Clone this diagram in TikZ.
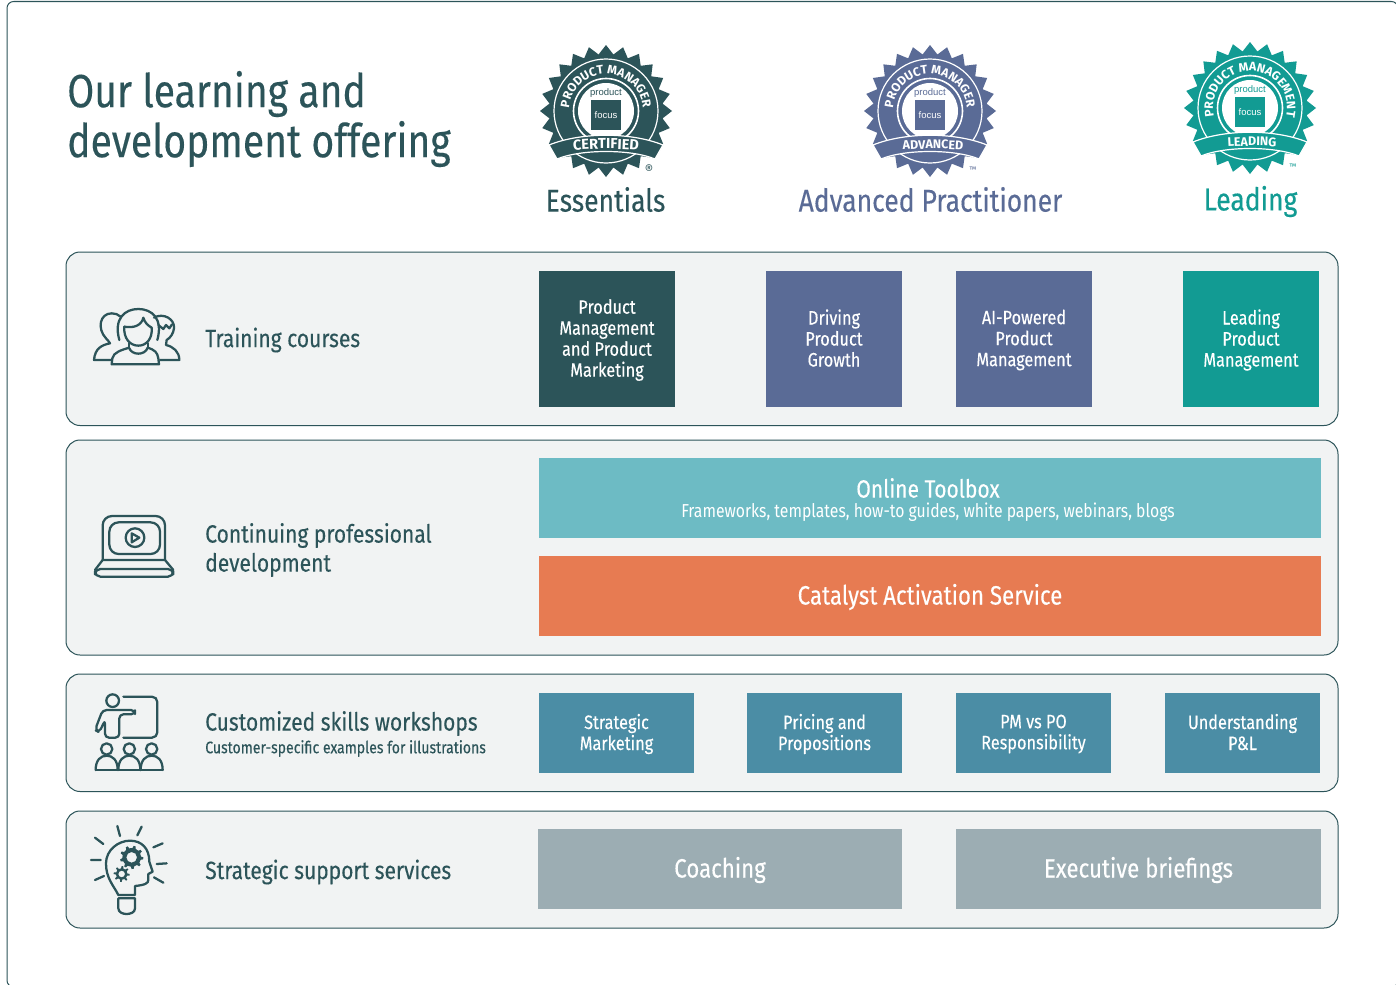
\documentclass[tikz,border=0pt]{standalone}
\usepackage{fontspec}
\usetikzlibrary{decorations.text}
\setmainfont[FakeStretch=0.84,FakeBold=0.25]{Fira Sans}
\newfontfamily\lightf[FakeStretch=0.84]{Fira Sans}
\newfontfamily\badgef{Fira Sans}
\newfontfamily\badgesans{Liberation Sans}
\definecolor{deep}{HTML}{2C5459}
\definecolor{slateb}{HTML}{5A6B96}
\definecolor{teal1}{HTML}{129B93}
\definecolor{aqua}{HTML}{6DBBC4}
\definecolor{coral}{HTML}{E77B52}
\definecolor{steel}{HTML}{4B8DA5}
\definecolor{graybox}{HTML}{9CADB3}
\definecolor{panelbg}{HTML}{F1F3F3}
\newcommand{\px}[1]{\fontsize{\fpeval{#1*0.75}pt}{\fpeval{#1*0.9}pt}\selectfont}
\newcommand{\pxl}[2]{\fontsize{\fpeval{#1*0.75}pt}{\fpeval{#2*0.75}pt}\selectfont}
\tikzset{
 x=0.75pt,y=-0.75pt,
 panel/.style={draw=deep,fill=panelbg,line width=0.75pt,rounded corners=10.5pt},
 boxbg/.style={inner sep=0pt,anchor=center},
 boxn/.style={anchor=center,inner sep=0pt,text=white,align=center,font=\pxl{19.4}{21}},
 wide/.style={anchor=center,inner sep=0pt,text=white,font=\px{26.5}},
 rowlabel/.style={anchor=west,inner sep=0pt,text=deep,align=left,font=\pxl{25}{29}},
 heading/.style={anchor=center,inner sep=0pt,font=\px{31.5}},
 icon/.style={draw=deep,line width=1.7pt,line cap=round,line join=round,fill=none},
}
\newcommand{\boxtxt}[8]{% name,color,w,h,x,y,style,text
 \node[boxbg,fill=#2,minimum width=#3*0.75pt,minimum height=#4*0.75pt] (#1) at (#5,#6) {};
 \node[#7] (#1t) at (#5,#6+1) {\vphantom{Ag}#8\vphantom{g}};}
\newcommand{\bsh}{0}
\newcommand{\badge}[9]{% name,x,y,color,top,bottom,topsize,botsize,mark
 \begin{scope}[shift={(#2,#3)},y=0.75pt]
  \fill[#4] (0:66) foreach \i in {1,...,24} { -- (\i*360/24-180/24:57) -- (\i*360/24:66)} -- cycle;
  \draw[white,line width=0.9pt] (0,0) circle (52);
  \draw[white,line width=1.2pt] (0,0) circle (32.5);
  \fill[white] (0,0) circle (28);
  \path[postaction={decorate,decoration={text along path,text align=center,
     text={|\badgef\bfseries\px{#7}\color{white}|#5}}}] (210:37) arc (210:-30:37);
  \draw[fill=#4,draw=white,line width=0.9pt] (-57,-34) .. controls (-25,-21) and (25,-21) .. (57,-34) -- (49,-48) .. controls (25,-38) and (-25,-38) .. (-49,-48) -- cycle;
  \path[postaction={decorate,decoration={text along path,text align=center,
     text={|\badgef\bfseries\px{#8}\color{white}|#6}}}] (-46+\bsh,-40.5) .. controls (-15+\bsh,-37) and (15+\bsh,-37) .. (46+\bsh,-40.5);
  \node[inner sep=0pt,fill=#4,minimum size=22.5pt] (#1sq) at (0,-4) {};
  \node[inner sep=0pt,text=white,font=\badgesans\px{9.5}] (#1fo) at (0,-4) {focus};
  \node[inner sep=0pt,text=#4,font=\badgesans\px{9.5}] (#1pr) at (0,18) {product};
  \node[inner sep=0pt,text=#4,font=\badgef] (#1mk) at (43,-59) {#9};
 \end{scope}}
\newcommand{\gearshape}[5]{% x,y,outer,inner,N
 \fill[deep,even odd rule] ({#1+#3},{#2})
  foreach \i in {1,...,#5} {
   -- ({#1+#3*cos((\i-0.75)*360/#5)},{#2+#3*sin((\i-0.75)*360/#5)})
   -- ({#1+(#3-7)*cos((\i-0.62)*360/#5)},{#2+(#3-7)*sin((\i-0.62)*360/#5)})
   -- ({#1+(#3-7)*cos((\i-0.13)*360/#5)},{#2+(#3-7)*sin((\i-0.13)*360/#5)})
   -- ({#1+#3*cos(\i*360/#5)},{#2+#3*sin(\i*360/#5)})
  } -- cycle ({#1},{#2}) circle (#4);}
\begin{document}
\begin{tikzpicture}
\useasboundingbox (0,0) rectangle (1396,985);
\fill[white] (0,0) rectangle (1396,985);
\draw[deep,line width=0.75pt,rounded corners=5pt] (7,1.5) rectangle (1398,987);
\node[anchor=west,inner sep=0pt,text=deep,align=left,font=\pxl{46.5}{50}] (title) at (67,119) {Our learning and\\development offering};
\badge{es}{606}{111}{deep}{PRODUCT MANAGER}{CERTIFIED}{12.3}{14.5}{\px{13}®}
\renewcommand{\bsh}{3}
\badge{ad}{930}{111}{slateb}{PRODUCT MANAGER}{ADVANCED}{12.3}{12.5}{\px{8}™}
\renewcommand{\bsh}{2}
\badge{le}{1250}{108}{teal1}{PRODUCT MANAGEMENT}{LEADING}{12.3}{12.5}{\px{8}™}
\node[heading,text=deep] (h1) at (605.5,199.5) {Essentials};
\node[heading,text=slateb] (h2) at (930.5,199.5) {Advanced Practitioner};
\node[heading,text=teal1] (h3) at (1250.5,201.5) {Leading};
\draw[panel] (66,252) rectangle (1338,425.5);
\draw[panel] (66,440) rectangle (1338,655);
\draw[panel] (66,674) rectangle (1338,791.5);
\draw[panel] (66,811) rectangle (1338,928);
\node[rowlabel] (l1) at (205,340) {Training courses};
\node[rowlabel] (l2) at (205,550) {Continuing professional\\development};
\node[rowlabel] (l3) at (205,723.5) {Customized skills workshops};
\node[anchor=west,inner sep=0pt,text=deep,font=\px{16.75}] (l3b) at (205,748.5) {Customer-specific examples for illustrations};
\node[rowlabel] (l4) at (205,872) {Strategic support services};
% training
\boxtxt{b1}{deep}{136}{136}{607}{339}{boxn}{Product\\Management\\and Product\\Marketing}
\boxtxt{b2}{slateb}{136}{136}{834}{339}{boxn}{Driving\\Product\\Growth}
\boxtxt{b3}{slateb}{136}{136}{1024}{339}{boxn}{AI-Powered\\Product\\Management}
\boxtxt{b4}{teal1}{136}{136}{1251}{339}{boxn}{Leading\\Product\\Management}
% CPD
\node[boxbg,fill=aqua,minimum width=586.5pt,minimum height=60pt] (t) at (930,498) {};
\node[inner sep=0pt,text=white,font=\px{25}] (t1) at (928,488) {Online Toolbox};
\node[inner sep=0pt,text=white,font=\lightf\px{18.75}] (t2) at (928,512) {Frameworks, templates, how-to guides, white papers, webinars, blogs};
\boxtxt{c}{coral}{782}{80}{930}{596}{wide}{Catalyst Activation Service}
% workshops
\boxtxt{w1}{steel}{155}{80}{616.5}{733}{boxn}{Strategic\\Marketing}
\boxtxt{w2}{steel}{155}{80}{824.5}{733}{boxn}{Pricing and\\Propositions}
\boxtxt{w3}{steel}{155}{80}{1033.5}{733}{boxn}{PM vs PO\\Responsibility}
\boxtxt{w4}{steel}{155}{80}{1242.5}{733}{boxn}{Understanding\\P\&L}
% support
\boxtxt{s1}{graybox}{364}{80}{720}{869}{wide}{Coaching}
\boxtxt{s2}{graybox}{365}{80}{1138.5}{869}{wide}{Executive briefings}
% icon 1
\begin{scope}[shift={(80,295)},scale=1/3]
 \draw[icon] (118,135) .. controls (100,70) and (135,42) .. (175,42) .. controls (215,42) and (250,70) .. (232,135);
 \draw[icon] (133,95) .. controls (160,100) and (185,92) .. (190,68) .. controls (195,85) and (205,92) .. (215,98);
 \draw[icon] (133,95) .. controls (130,130) and (150,152) .. (175,152) .. controls (200,152) and (218,130) .. (215,98);
 \draw[icon] (95,208) -- (97,190) .. controls (100,172) and (125,165) .. (147,158) .. controls (155,182) and (195,182) .. (203,158) .. controls (225,165) and (232,172) .. (235,190) -- (237,208) -- cycle;
 \draw[icon] (147,158) -- (147,145) (203,158) -- (203,145);
 \draw[icon] (78,130) .. controls (50,100) and (60,55) .. (95,55) .. controls (105,55) and (115,58) .. (122,65);
 \draw[icon] (78,130) .. controls (82,135) and (88,140) .. (90,145) .. controls (65,150) and (45,160) .. (42,195) -- (95,195);
 \draw[icon] (222,68) .. controls (250,52) and (285,72) .. (282,100) .. controls (280,115) and (272,128) .. (260,135) -- (258,150) .. controls (280,155) and (298,170) .. (298,195) -- (240,195);
 \draw[icon] (235,90) -- (250,102) -- (258,90) -- (268,100) -- (276,88);
\end{scope}
% icon 2
\begin{scope}[shift={(80,505)},scale=1/3]
 \draw[icon,rounded corners=7pt] (68,165) -- (68,33) -- (255,33) -- (255,165);
 \draw[icon,rounded corners=7pt] (88,52) rectangle (240,147);
 \draw[icon] (165,98) circle (28);
 \draw[icon] (155,85) -- (178,98) -- (155,112) -- cycle;
 \draw[icon] (68,165) -- (45,195) (255,165) -- (280,195) (68,165) -- (255,165);
 \draw[icon,rounded corners=4pt] (45,192) rectangle (280,215);
\end{scope}
% icon 3
\begin{scope}[shift={(80,685)},scale=1/3]
 \draw[icon] (98,47) circle (19);
 \draw[icon,rounded corners=4pt] (130,35) -- (232,35) -- (232,158) -- (130,158);
 \draw[icon,rounded corners=3pt] (75,158) -- (118,158) -- (118,88) -- (165,88) -- (165,75) -- (68,75) -- (45,135) -- (58,142) -- (75,105) -- cycle;
 \foreach \c in {80,148,215} {
  \draw[icon] (\c,192) circle (17);
  \draw[icon] (\c-33,255) .. controls (\c-33,225) and (\c-18,212) .. (\c,212) .. controls (\c+18,212) and (\c+33,225) .. (\c+33,255);
 }
 \draw[icon] (47,255) -- (248,255);
\end{scope}
% icon 4
\begin{scope}[shift={(80,820)},scale=1/3]
 \draw[icon] (112,18) -- (120,48) (185,20) -- (172,46) (45,53) -- (70,72) (33,120) -- (62,120) (45,180) -- (72,168) (220,82) -- (248,70) (230,132) -- (260,130) (222,172) -- (250,188);
 \draw[icon] (115,225) .. controls (100,195) and (78,175) .. (78,130) .. controls (78,90) and (115,62) .. (150,62) .. controls (185,62) and (208,85) .. (208,125) -- (218,155) -- (205,162) -- (205,180) .. controls (205,190) and (195,195) .. (165,198) -- (165,225) -- cycle;
 \draw[icon] (115,235) -- (165,235) -- (165,265) .. controls (165,278) and (150,282) .. (140,282) .. controls (130,282) and (115,278) .. (115,265) -- cycle;
 \gearshape{155}{112}{35}{16}{9}
 \gearshape{125}{162}{24}{10}{8}
\end{scope}
\end{tikzpicture}
\end{document}
